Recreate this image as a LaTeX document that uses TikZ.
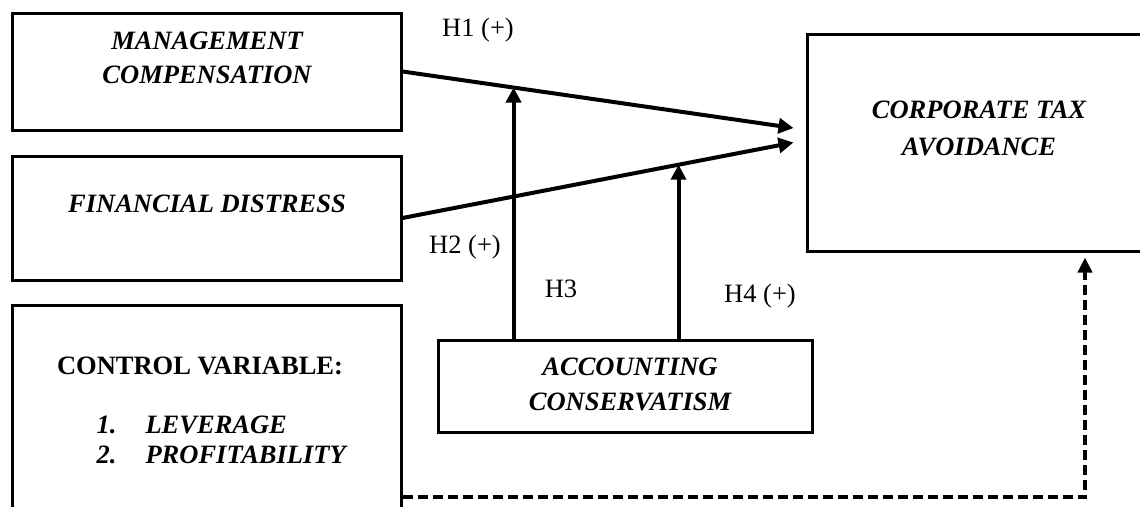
\documentclass[tikz,border=0pt]{standalone}
\usepackage{fontspec}
\setmainfont{Liberation Serif}
\usepackage{tikz}
\usetikzlibrary{shapes,arrows,arrows.meta,positioning,calc}

\tikzset{
  varbox/.style={draw,line width=3pt,rectangle,inner sep=0pt},
  vartext/.style={font=\fontsize{26.5}{34}\selectfont\bfseries\itshape,anchor=base},
  hyptext/.style={font=\fontsize{26.5}{32}\selectfont,anchor=base},
  hyparrow/.style={line width=4pt,-{Triangle[length=15pt,width=15pt]}},
  ctrlarrow/.style={line width=3.5pt,dash pattern=on 10pt off 5pt,-{Triangle[length=15pt,width=14pt]}}
}

\begin{document}
\begin{tikzpicture}[x=1pt,y=-1pt]
\useasboundingbox (0,0) rectangle (1140,506);

% Independent variables
\node[varbox,minimum width=389pt,minimum height=117pt] (mc) at (206.5,71.5) {};
\foreach \txt/\y [count=\i] in {MANAGEMENT/49,COMPENSATION/83}
    \node[vartext] (mc\i) at (207,\y) {\txt};
\node[varbox,minimum width=389pt,minimum height=124pt] (fd) at (206.5,218) {};
\node[vartext] (fd1) at (207,212) {FINANCIAL DISTRESS};

% Control variable
\node[varbox,minimum width=389pt,minimum height=215pt] (cv) at (206.5,412.5) {};
\node[hyptext,font=\fontsize{26.5}{32}\selectfont\bfseries] (cv0) at (200,374) {CONTROL VARIABLE:};
\foreach \num/\txt/\y [count=\i] in {1./LEVERAGE/433,2./PROFITABILITY/463} {
    \node[vartext,anchor=base west] (cvn\i) at (93,\y) {\num};
    \node[vartext,anchor=base west] (cv\i) at (142,\y) {\txt};
}

% Dependent variable
\node[varbox,minimum width=343pt,minimum height=217pt] (cta) at (978.5,142.5) {};
\foreach \txt/\y [count=\i] in {CORPORATE TAX/118,AVOIDANCE/155}
    \node[vartext] (cta\i) at (979,\y) {\txt};

% Moderating variable
\node[varbox,minimum width=374pt,minimum height=92pt] (ac) at (625,386) {};
\foreach \txt/\y [count=\i] in {ACCOUNTING/375,CONSERVATISM/410}
    \node[vartext] (ac\i) at (630,\y) {\txt};

% Hypotheses
\coordinate (h1end) at ($(cta.west)+(-12,-14.5)$);
\coordinate (h2end) at ($(cta.west)+(-12,0)$);
\draw[hyparrow] (mc.east) -- (h1end);
\draw[hyparrow] (fd.east) -- (h2end);
\coordinate (h3end) at ($(mc.east)!0.284!(h1end)$);
\coordinate (h4end) at ($(fd.east)!0.706!(h2end)$);
\draw[hyparrow] (ac.north -| h3end) -- (h3end);
\draw[hyparrow] (ac.north -| h4end) -- (h4end);
\node[hyptext] (h1) at (478,36) {H1 (+)};
\node[hyptext] (h2) at (465,253) {H2 (+)};
\node[hyptext] (h3) at (561,297) {H3};
\node[hyptext] (h4) at (760,302) {H4 (+)};

% Control path
\draw[ctrlarrow] ($(cv.east)+(0,84.5)$) -| ($(cta.south)+(106.5,5)$);
\end{tikzpicture}
\end{document}
